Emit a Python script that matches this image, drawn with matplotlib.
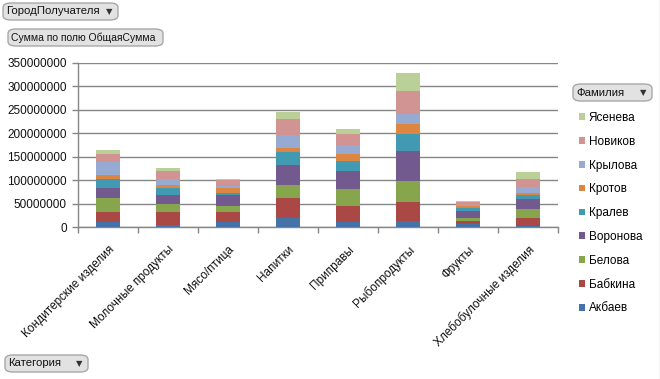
import matplotlib
matplotlib.use('Agg')
import matplotlib.pyplot as plt
import numpy as np
from matplotlib.patches import FancyBboxPatch, Patch
from matplotlib.lines import Line2D

categories = ['Кондитерские изделия', 'Молочные продукты', 'Мясо/птица', 'Напитки',
              'Приправы', 'Рыбопродукты', 'Фрукты', 'Хлебобулочные изделия']

# values in millions, bottom to top of each stack
akbaev   = [11.4, 4.3, 11.4, 19.9, 11.4, 12.8, 7.1, 2.8]
babkina  = [20.6, 27.7, 20.6, 42.6, 34.0, 41.2, 5.7, 17.0]
belova   = [30.5, 17.8, 12.8, 27.0, 35.5, 44.0, 7.1, 19.2]
voronova = [20.6, 18.5, 23.4, 42.6, 38.3, 63.9, 14.2, 20.6]
kralev   = [19.2, 15.6, 4.3, 27.7, 21.3, 36.9, 6.4, 8.5]
krotov   = [8.5, 5.7, 10.7, 9.2, 14.9, 21.3, 5.0, 4.3]
krylova  = [28.4, 12.8, 4.3, 27.0, 19.2, 21.3, 1.4, 12.8]
novikov  = [17.0, 17.8, 12.8, 34.0, 24.1, 48.3, 5.7, 17.0]
yaseneva = [8.5, 6.4, 2.1, 15.6, 9.9, 38.3, 2.8, 14.9]

series = [('Акбаев', akbaev, '#4672AA'),
          ('Бабкина', babkina, '#AA4845'),
          ('Белова', belova, '#87A54D'),
          ('Воронова', voronova, '#725A8F'),
          ('Кралев', kralev, '#4299B2'),
          ('Кротов', krotov, '#DD8641'),
          ('Крылова', krylova, '#96AAD2'),
          ('Новиков', novikov, '#D29393'),
          ('Ясенева', yaseneva, '#BBCF99')]

yticks = [0, 50000000, 100000000, 150000000, 200000000, 250000000, 300000000, 350000000]

plt.rcParams['font.family'] = ['Liberation Sans', 'DejaVu Sans']
plt.rcParams['font.size'] = 8.5

fig = plt.figure(figsize=(6.6, 3.79), dpi=100)
ax = fig.add_axes([78 / 660, 1 - 227 / 379, 480 / 660, (227 - 62.7) / 379])

x = np.arange(len(categories))
bottom = np.zeros(len(categories))
handles = []
for name, vals, color in series:
    v = np.array(vals) * 1e6
    ax.bar(x, v, 0.4, bottom=bottom, color=color, zorder=3)
    bottom += v
    handles.append(Patch(facecolor=color, label=name))

ax.set_xlim(-0.5, len(categories) - 0.5)
ax.set_ylim(0, 350000000)
ax.set_yticks(yticks)
ax.set_yticklabels([str(t) for t in yticks], color='#111111')
ax.set_xticks(np.arange(len(categories) + 1) - 0.5, minor=True)
ax.set_xticks(x)
ax.set_xticklabels(categories, rotation=45, ha='right', rotation_mode='anchor', color='#111111')
ax.tick_params(axis='x', which='major', length=0, pad=12)
ax.tick_params(axis='x', which='minor', length=4, color='#868686', width=1)
ax.tick_params(axis='y', length=4, color='#868686', width=1, pad=4)
ax.grid(axis='y', color='#868686', linewidth=1, zorder=0)
for s in ['top', 'right']:
    ax.spines[s].set_visible(False)
for s in ['left', 'bottom']:
    ax.spines[s].set_color('#868686')
    ax.spines[s].set_linewidth(1)

leg = fig.legend(handles=handles[::-1], loc='upper left',
                 bbox_to_anchor=(573 / 660, 1 - 106 / 379), frameon=False,
                 handlelength=0.5, handleheight=0.5, handletextpad=0.35,
                 labelspacing=1.0, borderpad=0, fontsize=8.5)


def button(x0, y0, w, h, label, arrow=True, size=8.2):
    # pixel coords from top-left
    fx, fy = x0 / 660, 1 - (y0 + h) / 379
    fw, fh = w / 660, h / 379
    box = FancyBboxPatch((fx, fy), fw, fh, boxstyle='round,pad=0,rounding_size=0.012',
                         transform=fig.transFigure, facecolor='#E2E2E2',
                         edgecolor='#A8A8A8', linewidth=1)
    fig.patches.append(box)
    fig.text(fx + 3 / 660, fy + fh / 2, label, ha='left', va='center', fontsize=size, color='#111111')
    if arrow:
        fig.text(fx + fw - 6 / 660, fy + fh / 2, '▼', ha='right', va='center',
                 fontsize=6, color='#333333', family='DejaVu Sans')


button(3, 3, 115, 17, 'ГородПолучателя')
button(8, 29, 155, 17, 'Сумма по полю ОбщаяСумма', arrow=False, size=7.5)
button(573, 84, 79, 17, 'Фамилия')
button(5, 355, 83, 17, 'Категория')

fig.lines.append(Line2D([659.5 / 660, 659.5 / 660], [0, 1], transform=fig.transFigure,
                        color='#C8C8C8', linewidth=1))

fig.savefig('out.png', dpi=100)
